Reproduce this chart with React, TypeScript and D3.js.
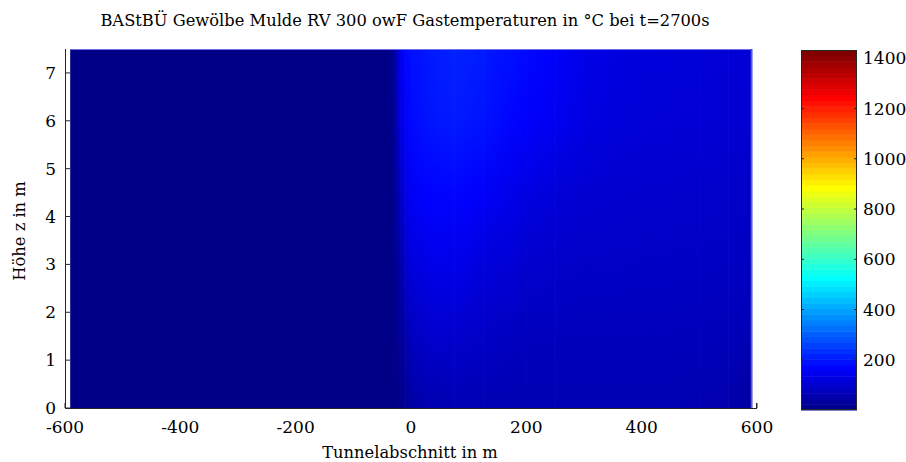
import { useEffect, useRef } from "react";
import * as d3 from "d3";

const WIDTH = 906;
const HEIGHT = 462;
const FONT = "'DejaVu Serif', serif";

const TITLE = "BAStBÜ Gewölbe Mulde RV 300 owF Gastemperaturen in °C bei t=2700s";
const X_LABEL = "Tunnelabschnitt in m";
const Y_LABEL = "Höhe z in m";

const sections = [-591, -40, -30, -20, -10, 0, 25, 50, 75, 100, 125, 150, 175, 200, 250, 300, 350, 400, 450, 500, 550, 591];
// heights (m), top to bottom
const heights = [7.5, 6, 4.5, 3, 1.5, 0];
// gas temperature in °C, one row per height
const tempZ75 = [10, 10, 40, 150, 185, 200, 210, 220, 225, 222, 215, 205, 200, 190, 172, 148, 135, 130, 128, 125, 122, 120];
const tempZ60 = [10, 10, 30, 130, 170, 190, 205, 212, 215, 210, 205, 195, 185, 175, 158, 140, 128, 124, 122, 120, 118, 115];
const tempZ45 = [10, 10, 20, 90, 140, 165, 180, 185, 185, 180, 170, 160, 150, 140, 125, 115, 112, 110, 108, 106, 105, 100];
const tempZ30 = [10, 10, 15, 55, 100, 130, 145, 150, 150, 140, 130, 125, 120, 110, 105, 100, 100, 98, 98, 96, 95, 90];
const tempZ15 = [10, 10, 12, 30, 60, 90, 105, 110, 110, 105, 100, 95, 92, 88, 86, 85, 85, 85, 85, 84, 82, 75];
const tempZ00 = [10, 10, 10, 15, 30, 50, 65, 70, 72, 72, 72, 72, 72, 72, 72, 72, 72, 72, 72, 70, 65, 45];
const temps = [tempZ75, tempZ60, tempZ45, tempZ30, tempZ15, tempZ00];

const xTicks = [-600, -400, -200, 0, 200, 400, 600];
const yTicks = [0, 1, 2, 3, 4, 5, 6, 7];
const cbTicks = [200, 400, 600, 800, 1000, 1200, 1400];
const T_MIN = 0;
const T_MAX = 1433;
const N_COLORS = 64;

// MATLAB-style jet
function jet(t: number): string {
  const c = (v: number) => Math.round(255 * Math.max(0, Math.min(1, v)));
  const r = 1.5 - Math.abs(4 * t - 3);
  const g = 1.5 - Math.abs(4 * t - 2);
  const b = 1.5 - Math.abs(4 * t - 1);
  return `rgb(${c(r)},${c(g)},${c(b)})`;
}

export default function App() {
  const svgRef = useRef<SVGSVGElement>(null);

  useEffect(() => {
    const svg = d3.select(svgRef.current);
    svg.selectAll("*").remove();

    const x = d3.scaleLinear().domain([-600, 600]).range([65, 757]);
    const y = d3.scaleLinear().domain([0, 7.5]).range([408, 49]);
    const color = d3.scaleSequential(jet).domain([T_MIN, T_MAX]).clamp(true);
    const cbY = d3.scaleLinear().domain([T_MIN, T_MAX]).range([410, 50]);
    const cbX0 = 801;
    const cbX1 = 857;

    const defs = svg.append("defs");

    // one vertical gradient per section
    sections.forEach((_, i) => {
      const grad = defs
        .append("linearGradient")
        .attr("id", `col-${i}`)
        .attr("gradientUnits", "userSpaceOnUse")
        .attr("x1", 0)
        .attr("x2", 0)
        .attr("y1", y(7.5))
        .attr("y2", y(0));
      heights.forEach((z, j) => {
        grad
          .append("stop")
          .attr("offset", (7.5 - z) / 7.5)
          .attr("stop-color", color(temps[j][i]));
      });
    });

    // horizontal fade mask for blending neighbouring sections
    const fade = defs
      .append("linearGradient")
      .attr("id", "fade")
      .attr("x1", 0)
      .attr("x2", 1)
      .attr("y1", 0)
      .attr("y2", 0);
    fade.append("stop").attr("offset", 0).attr("stop-color", "black");
    fade.append("stop").attr("offset", 1).attr("stop-color", "white");
    defs
      .append("mask")
      .attr("id", "fade-mask")
      .attr("maskContentUnits", "objectBoundingBox")
      .append("rect")
      .attr("width", 1)
      .attr("height", 1)
      .attr("fill", "url(#fade)");

    const axisColor = "#262626";

    // y ticks (inward)
    svg
      .append("g")
      .selectAll("line")
      .data(yTicks)
      .join("line")
      .attr("x1", 65)
      .attr("x2", 70)
      .attr("y1", (d) => y(d))
      .attr("y2", (d) => y(d))
      .attr("stroke", axisColor);

    // x ticks (inward)
    svg
      .append("g")
      .selectAll("line")
      .data(xTicks)
      .join("line")
      .attr("x1", (d) => x(d))
      .attr("x2", (d) => x(d))
      .attr("y1", 408)
      .attr("y2", 403)
      .attr("stroke", axisColor);

    // temperature field
    const field = svg.append("g");
    for (let i = 0; i < sections.length - 1; i++) {
      const x0 = x(sections[i]);
      const x1 = x(sections[i + 1]);
      field
        .append("rect")
        .attr("x", x0)
        .attr("y", y(7.5))
        .attr("width", x1 - x0 + 0.5)
        .attr("height", y(0) - y(7.5))
        .attr("fill", `url(#col-${i})`);
      field
        .append("rect")
        .attr("x", x0)
        .attr("y", y(7.5))
        .attr("width", x1 - x0 + 0.5)
        .attr("height", y(0) - y(7.5))
        .attr("fill", `url(#col-${i + 1})`)
        .attr("mask", "url(#fade-mask)");
    }
    // light surface edge on top and right
    field
      .append("path")
      .attr("d", `M${x(sections[0])},${y(7.5) + 0.5}H${x(sections[sections.length - 1]) - 0.5}V${y(0)}`)
      .attr("fill", "none")
      .attr("stroke", "#6f6fe8")
      .attr("stroke-width", 1);

    // axis lines
    svg
      .append("path")
      .attr("d", `M65.5,${y(7.5)}V408.5H${x(600)}`)
      .attr("fill", "none")
      .attr("stroke", axisColor);
    svg
      .append("line")
      .attr("x1", x(600) - 0.5)
      .attr("x2", x(600) - 0.5)
      .attr("y1", 408)
      .attr("y2", 403)
      .attr("stroke", axisColor);

    const text = svg.append("g").attr("font-family", FONT).attr("fill", "#000");

    text
      .append("g")
      .selectAll("text")
      .data(xTicks)
      .join("text")
      .attr("x", (d) => x(d))
      .attr("y", 433)
      .attr("text-anchor", "middle")
      .attr("font-size", 17)
      .text((d) => d);

    text
      .append("g")
      .selectAll("text")
      .data(yTicks)
      .join("text")
      .attr("x", 56)
      .attr("y", (d) => y(d) + 6)
      .attr("text-anchor", "end")
      .attr("font-size", 17)
      .text((d) => d);

    text
      .append("text")
      .attr("x", 405)
      .attr("y", 26)
      .attr("text-anchor", "middle")
      .attr("font-size", 16.3)
      .text(TITLE);

    text
      .append("text")
      .attr("x", 410)
      .attr("y", 458)
      .attr("text-anchor", "middle")
      .attr("font-size", 16.3)
      .text(X_LABEL);

    text
      .append("text")
      .attr("transform", `translate(25,231) rotate(-90)`)
      .attr("text-anchor", "middle")
      .attr("font-size", 16.3)
      .text(Y_LABEL);

    // colorbar
    const bands = d3.range(N_COLORS);
    const cb = svg.append("g");
    cb.selectAll("rect")
      .data(bands)
      .join("rect")
      .attr("x", cbX0)
      .attr("width", cbX1 - cbX0)
      .attr("y", (i) => cbY(((i + 1) / N_COLORS) * T_MAX))
      .attr("height", (i) => cbY((i / N_COLORS) * T_MAX) - cbY(((i + 1) / N_COLORS) * T_MAX) + 0.5)
      .attr("fill", (i) => jet((i + 1) / N_COLORS));
    cb.append("rect")
      .attr("x", cbX0 + 0.5)
      .attr("y", cbY(T_MAX) + 0.5)
      .attr("width", cbX1 - cbX0 - 1)
      .attr("height", cbY(T_MIN) - cbY(T_MAX) - 1)
      .attr("fill", "none")
      .attr("stroke", axisColor);
    cb.selectAll("line.l")
      .data(cbTicks)
      .join("line")
      .attr("class", "l")
      .attr("x1", cbX0)
      .attr("x2", cbX0 + 3)
      .attr("y1", (d) => cbY(d))
      .attr("y2", (d) => cbY(d))
      .attr("stroke", axisColor);
    cb.selectAll("line.r")
      .data(cbTicks)
      .join("line")
      .attr("class", "r")
      .attr("x1", cbX1 - 3)
      .attr("x2", cbX1)
      .attr("y1", (d) => cbY(d))
      .attr("y2", (d) => cbY(d))
      .attr("stroke", axisColor);
    text
      .append("g")
      .selectAll("text")
      .data(cbTicks)
      .join("text")
      .attr("x", 863)
      .attr("y", (d) => cbY(d) + 6)
      .attr("font-size", 17)
      .text((d) => d);
  }, []);

  return (
    <svg
      ref={svgRef}
      width={WIDTH}
      height={HEIGHT}
      style={{ position: "absolute", left: 0, top: 0, background: "#fff" }}
    />
  );
}
